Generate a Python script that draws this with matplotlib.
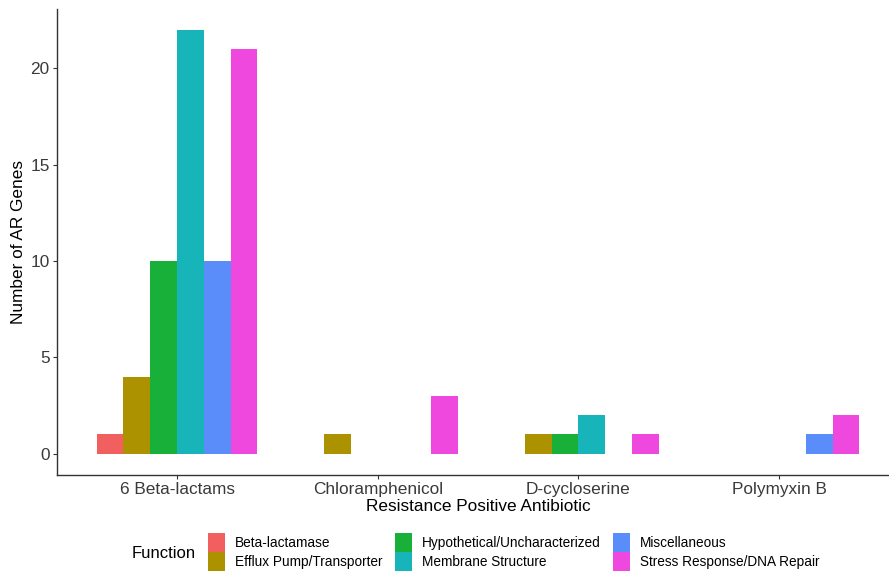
import matplotlib.pyplot as plt
from matplotlib.patches import Patch
import numpy as np

plt.rcParams['font.family'] = ['Liberation Sans', 'DejaVu Sans']

' ____________ data ____________ '
antibiotics = ['6 Beta-lactams', 'Chloramphenicol', 'D-cycloserine', 'Polymyxin B']
functions   = ['Beta-lactamase', 'Efflux Pump/Transporter', 'Hypothetical/Uncharacterized',
               'Membrane Structure', 'Miscellaneous', 'Stress Response/DNA Repair']
# counts per function, one value per antibiotic (0 = no bar)
beta_lactamase = [1, 0, 0, 0]
efflux         = [4, 1, 1, 0]
hypothetical   = [10, 0, 1, 0]
membrane       = [22, 0, 2, 0]
misc           = [10, 0, 0, 1]
stress         = [21, 3, 1, 2]
counts = [beta_lactamase, efflux, hypothetical, membrane, misc, stress]

colors = ['#F25F5F', '#AD9200', '#19B03A', '#17B5BA', '#5A8CFA', '#EE48DF']

' ____________ plot ____________ '
fig = plt.figure(figsize=(8.89, 5.71), dpi=100)
ax = fig.add_axes([56.6/889, 1 - 474.7/571, 842.9/889, (474.7 - 8.8)/571])

x = np.arange(1, len(antibiotics) + 1)
w = 0.8 / len(functions)
for j, (vals, col) in enumerate(zip(counts, colors)):
    vals = np.array(vals)
    keep = vals > 0
    ax.bar(x[keep] + (j - 2.5)*w, vals[keep], width=w, color=col, linewidth=0)

ax.set_xlim(0.4, 4.6)
ax.set_ylim(-1.1, 23.1)
ax.set_xticks(x)
ax.set_xticklabels(antibiotics)
ax.set_yticks([0, 5, 10, 15, 20])

for s in ['top', 'right']:
    ax.spines[s].set_visible(False)
for s in ['left', 'bottom']:
    ax.spines[s].set_color('#333333')
    ax.spines[s].set_linewidth(1.0)

ax.tick_params(axis='both', colors='#333333', labelcolor='#3A3A3A',
               labelsize=12.4, length=3, width=0.8, pad=2)

ax.set_xlabel('Resistance Positive Antibiotic', fontsize=12.4, color='black', labelpad=1.5)
fig.text(19/889, 1 - 241.7/571, 'Number of AR Genes', rotation=90,
         ha='center', va='center', fontsize=12.4, color='black')

' ____________ legend ____________ '
handles = [Patch(facecolor=c, edgecolor='none', label=f) for c, f in zip(colors, functions)]
fig.legend(handles=handles, loc='upper left', bbox_to_anchor=(208/889, 1 - 533/571),
           ncol=3, frameon=False, fontsize=9.8, borderpad=0, labelspacing=0,
           handlelength=1.25, handleheight=1.75, handletextpad=0.7, columnspacing=0.95,
           borderaxespad=0)
fig.text(132/889, 1 - 553/571, 'Function', fontsize=12, ha='left', va='center')

fig.savefig('out.png', dpi=100)
